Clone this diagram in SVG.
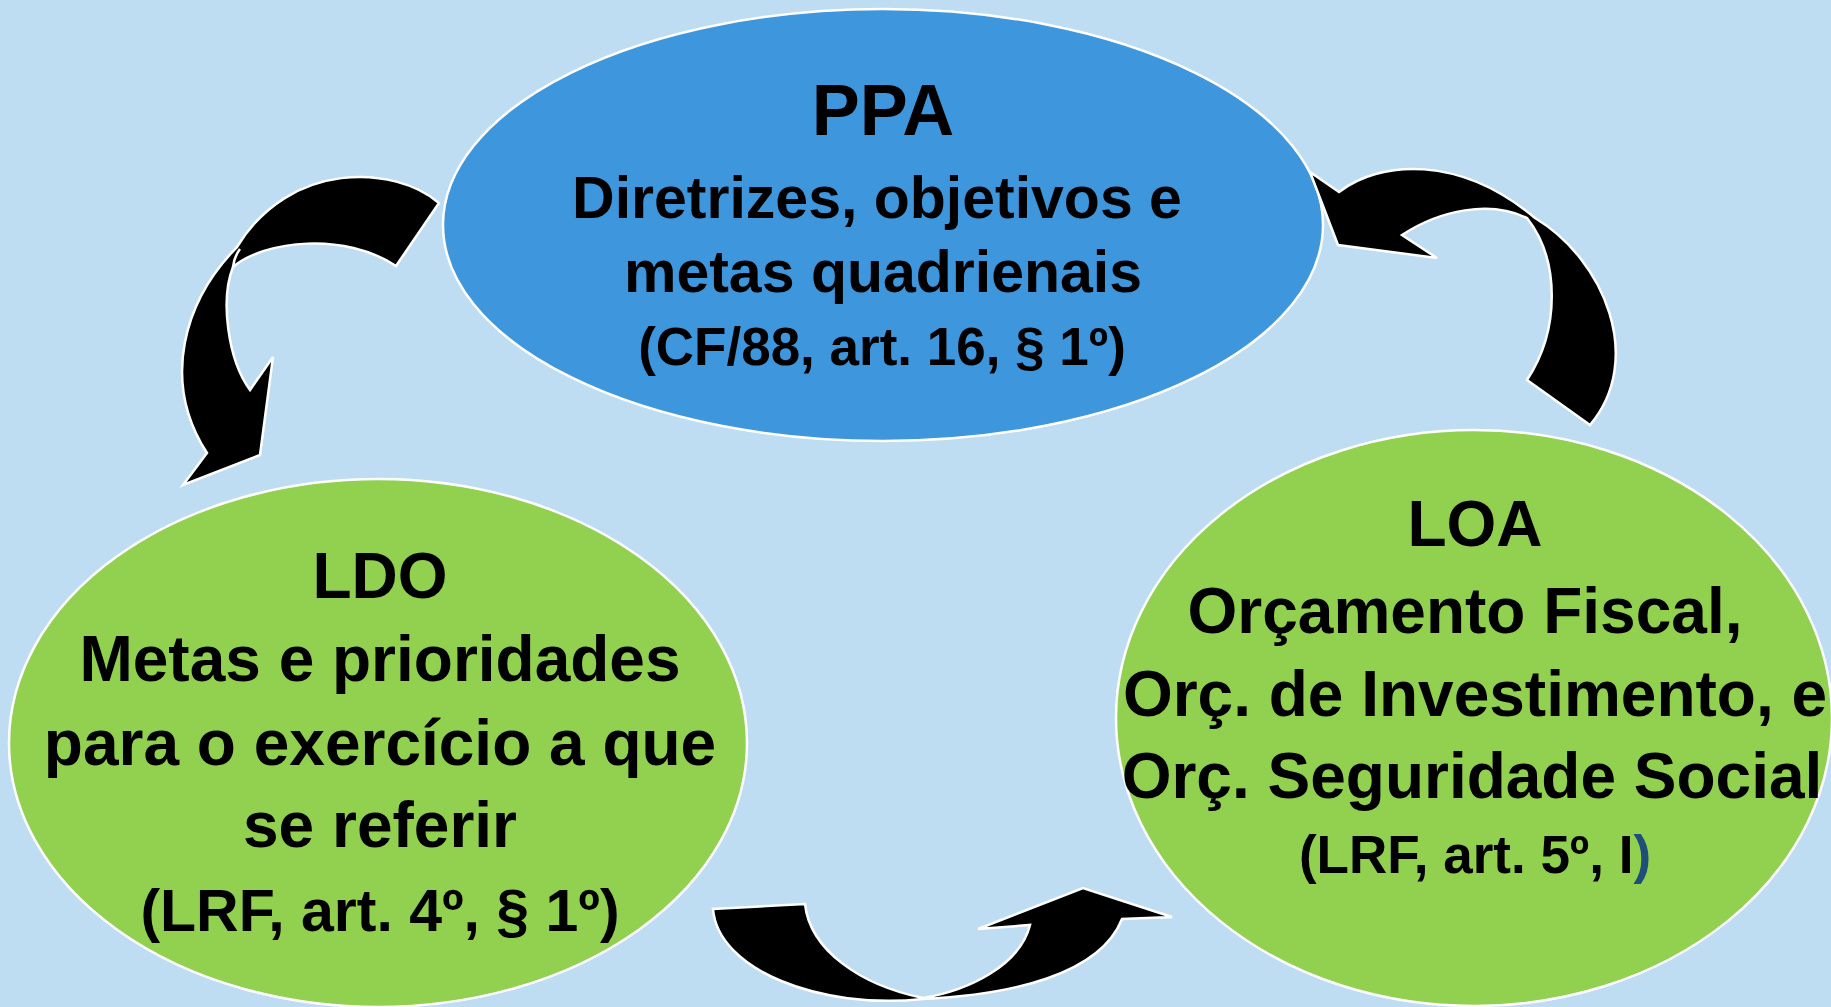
<svg xmlns="http://www.w3.org/2000/svg" width="1831" height="1007" viewBox="0 0 1831 1007">
<style>
.bg{fill:#BEDDF3}
.node{stroke:#FFFFFF;stroke-width:2.5}
.ppa{fill:#3E96DD}
.green{fill:#92D050}
.arrow{fill:#000000;stroke:#FFFFFF;stroke-width:2.5;stroke-linejoin:miter}
.seam{fill:none;stroke:#FFFFFF;stroke-width:2.5}
text{font-family:"Liberation Sans",Arial,sans-serif;font-weight:bold;fill:#000000;text-anchor:middle}
.t{font-size:72px}
.b{font-size:64px}
.p{font-size:59px}
.c{font-size:53px}
.lc{font-size:59px}
</style>
<rect class="bg" x="0" y="0" width="1831" height="1007"/>
<g id="node-ppa">
<ellipse class="node ppa" cx="883" cy="225" rx="440" ry="216"/>
<text class="t" x="883" y="135">PPA</text>
<text class="p" x="877" y="218">Diretrizes, objetivos e</text>
<text class="p" x="883" y="292">metas quadrienais</text>
<text class="c" x="882" y="365">(CF/88, art. 16, § 1º)</text>
</g>
<g id="node-ldo">
<ellipse class="node green" cx="378" cy="743" rx="369" ry="264"/>
<text class="b" x="380" y="598">LDO</text>
<text class="b" x="380" y="681">Metas e prioridades</text>
<text class="b" x="380" y="765">para o exercício a que</text>
<text class="b" x="380" y="847">se referir</text>
<text class="lc" x="380" y="931">(LRF, art. 4º, § 1º)</text>
</g>
<g id="node-loa">
<ellipse class="node green" cx="1474" cy="718" rx="358" ry="288"/>
<text class="b" x="1475" y="546">LOA</text>
<text class="b" x="1465" y="633">Orçamento Fiscal,</text>
<text class="b" x="1475" y="716">Orç. de Investimento, e</text>
<text class="b" x="1472" y="798">Orç. Seguridade Social</text>
<text class="c" x="1475" y="873">(LRF, art. 5º, I<tspan fill="#1F4E79">)</tspan></text>
</g>
<g id="connectors">
<path id="arrow-ppa-ldo" class="arrow" d="M439,203 C395,165 290,160 237,247 C185,300 160,380 207,453 L183,485 L260,455 L273,357 L250,390 C228,360 220,300 233,267 C265,240 345,232 396,266 Z"/>
<path class="seam" d="M233,267 Q234,257 240,249"/>
<path id="arrow-loa-ppa" class="arrow" d="M1310,172 L1339,192 C1380,160 1460,155 1535,218 C1605,260 1645,360 1590,425 L1527,380 C1560,330 1560,260 1527,218 C1490,200 1440,210 1402,235 L1437,258 L1338,245 Z"/>
<path id="arrow-ldo-loa" class="arrow" d="M713,909 C718,970 820,1010 923,999 C1010,995 1100,975 1122,919 L1172,917 L1083,888 L978,929 L1030,925 C1020,965 970,990 923,998 C860,985 810,950 805,904 Z"/>
</g>
</svg>
